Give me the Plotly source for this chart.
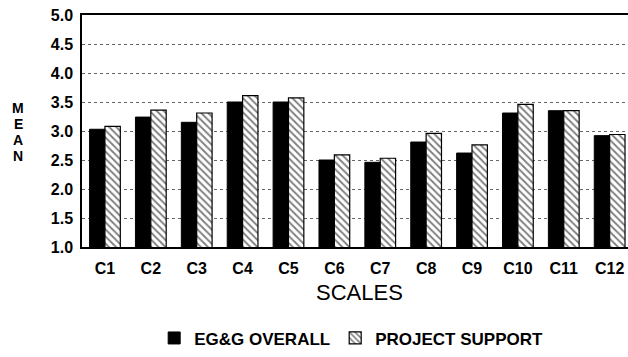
import plotly.graph_objects as go

categories = ["C1", "C2", "C3", "C4", "C5", "C6", "C7", "C8", "C9", "C10", "C11", "C12"]
egg_overall = [3.03, 3.24, 3.15, 3.50, 3.50, 2.50, 2.46, 2.81, 2.62, 3.31, 3.35, 2.92]
project_support = [3.08, 3.36, 3.31, 3.61, 3.57, 2.59, 2.53, 2.96, 2.76, 3.46, 3.35, 2.94]
y_ticks = [1.0, 1.5, 2.0, 2.5, 3.0, 3.5, 4.0, 4.5, 5.0]
y_title_letters = ["M", "E", "A", "N"]

FONT = "Liberation Sans"

fig = go.Figure()
fig.add_trace(go.Bar(
    x=categories, y=egg_overall, name="<b>EG&G OVERALL</b>",
    marker=dict(color="black", line=dict(color="black", width=1)),
))
fig.add_trace(go.Bar(
    x=categories, y=project_support, name="<b>PROJECT SUPPORT</b>",
    marker=dict(color="white", line=dict(color="black", width=1.2),
                pattern=dict(shape="\\", fgcolor="black", bgcolor="white",
                             size=5, solidity=0.38)),
))

# stacked vertical axis title, one letter per line
annotations = []
for i, letter in enumerate(y_title_letters):
    annotations.append(dict(
        text=f"<b>{letter}</b>", xref="paper", yref="y",
        x=-0.117, y=3.39 - i * 0.275, xanchor="center", yanchor="middle",
        showarrow=False, font=dict(family=FONT, size=14, color="black")))
annotations.append(dict(
    text="SCALES", xref="paper", yref="paper",
    x=0.508, y=-0.195, xanchor="center", yanchor="middle", showarrow=False,
    font=dict(family=FONT, size=22, color="black")))

fig.update_layout(
    width=628, height=357,
    margin=dict(l=82, r=0, t=15, b=106),
    paper_bgcolor="white", plot_bgcolor="white",
    barmode="group", bargap=0.33, bargroupgap=0.0,
    font=dict(family=FONT, color="black"),
    showlegend=True,
    legend=dict(orientation="h", x=0.493, xanchor="center", y=-0.394, yanchor="middle",
                font=dict(family=FONT, size=17, color="black"),
                itemwidth=30, traceorder="normal"),
    xaxis=dict(
        range=[-0.5, 11.4], showline=True, linecolor="black", linewidth=1.5,
        mirror=True, ticks="", showgrid=False, ticklabelstandoff=6,
        tickfont=dict(family=FONT, size=16, color="black", weight="bold"),
    ),
    yaxis=dict(
        range=[1, 5], tickvals=y_ticks, ticktext=[f"<b>{v:.1f}</b>" for v in y_ticks],
        showline=True, linecolor="black", linewidth=1.5, mirror=False, ticks="",
        showgrid=True, gridcolor="#666", griddash="dot", gridwidth=1,
        ticklabelstandoff=4, ticklabeloverflow="allow",
        tickfont=dict(family=FONT, size=16, color="black"), zeroline=False,
    ),
    annotations=annotations,
)

# remove the default page margin so the figure fills the window exactly
fig.write_html("out.html",
               config={"displayModeBar": False},
               post_script="document.body.style.margin='0';document.body.style.overflow='hidden';")
